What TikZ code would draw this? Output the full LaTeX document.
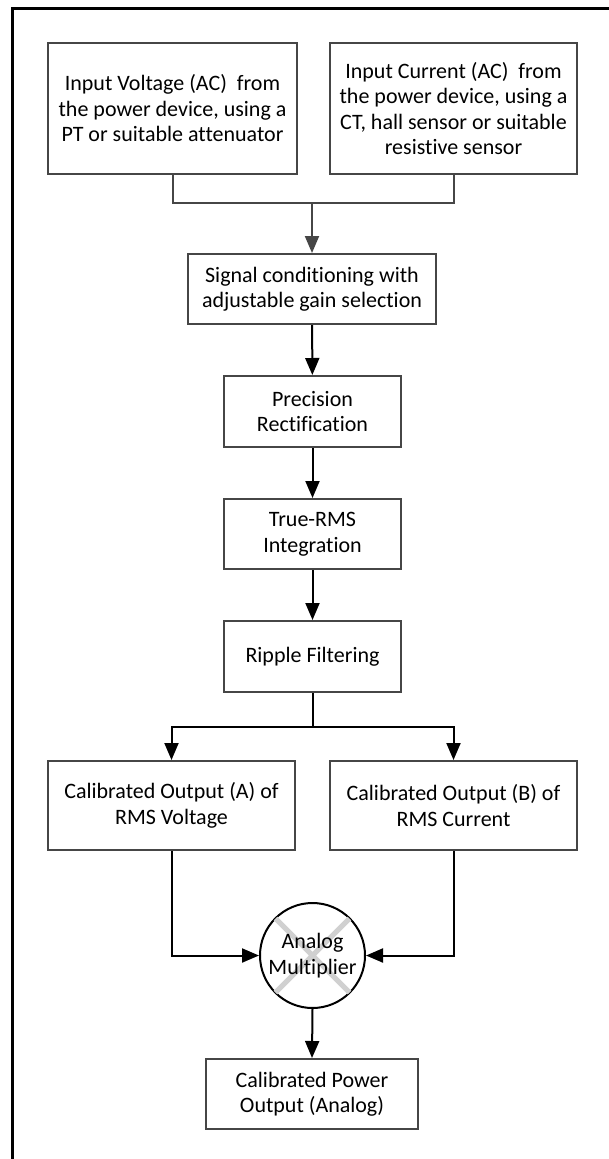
\documentclass[tikz,border=0pt]{standalone}
\usepackage{fontspec}
\setmainfont{Carlito}[Ligatures=CommonOff]
\usetikzlibrary{arrows.meta}
\definecolor{boxgray}{RGB}{70,70,70}
\definecolor{xgray}{RGB}{208,208,208}
\begin{document}
\begin{tikzpicture}[x=1pt,y=-1pt,
  blk/.style={draw=boxgray, line width=2pt, fill=white, inner sep=0pt, align=center,
    font=\fontsize{22}{25.5}\selectfont},
  arr/.style={line width=2pt, draw=black, -{Triangle[length=17pt,width=14pt]}},
  garr/.style={line width=2pt, draw=boxgray, -{Triangle[length=17pt,width=14pt]}},
  gline/.style={line width=2pt, draw=boxgray}]
\useasboundingbox (0,0) rectangle (609,1159);
\fill[white] (0,0) rectangle (609,1159);
% outer frame (only left and top visible)
\draw[line width=3pt, black] (12,1159) -- (12,8.5) -- (609,8.5);

\node[blk, minimum width=249pt, minimum height=131pt] (b1) at (172.5,108.5)
  {Input Voltage (AC)\ \ from\\the power device, using a\\PT or suitable attenuator};
\node[blk, minimum width=247pt, minimum height=131pt] (b2) at (453.5,108.5)
  {Input Current (AC)\ \ from\\the power device, using a\\CT, hall sensor or suitable\\resistive sensor};
\node[blk, minimum width=248pt, minimum height=70pt] (b3) at (312,289)
  {Signal conditioning with\\adjustable gain selection};
\node[blk, minimum width=177pt, minimum height=71pt] (b4) at (312.5,411.5)
  {Precision\\Rectification};
\node[blk, minimum width=177pt, minimum height=70pt] (b5) at (312.5,534)
  {True-RMS\\Integration};
\node[blk, minimum width=177pt, minimum height=71pt] (b6) at (312.5,656.5)
  {Ripple Filtering};
\node[blk, minimum width=247pt, minimum height=89pt] (b7) at (171.5,805.5)
  {Calibrated Output (A) of\\RMS Voltage};
\node[blk, minimum width=247pt, minimum height=89pt] (b8) at (453.5,805.5)
  {Calibrated Output (B) of\\RMS Current};
\node[draw=black, line width=2pt, circle, minimum size=105pt, inner sep=0pt] (mul) at (312.5,955.5) {};
\draw[xgray, line width=5pt] ([shift={(-37,-37)}]mul.center) -- ([shift={(37,37)}]mul.center)
  ([shift={(37,-37)}]mul.center) -- ([shift={(-37,37)}]mul.center);
\node[align=center, font=\fontsize{22}{25.5}\selectfont] (multxt) at (mul.center) {Analog\\Multiplier};
\node[blk, minimum width=212pt, minimum height=70pt] (b9) at (312,1094)
  {Calibrated Power\\Output (Analog)};

\coordinate (j1) at (312,203);
\coordinate (j2) at (312.5,727);

\draw[gline] (b1.south) |- (j1) -| (b2.south);
\draw[garr] (j1) -- (b3.north);
\draw[arr] (b3) -- (b4);
\draw[arr] (b4) -- (b5);
\draw[arr] (b5) -- (b6);
\draw[line width=2pt] (b6.south) -- (j2);
\draw[arr] (j2) -| (b7.north);
\draw[arr] (j2) -| (b8.north);
\draw[arr] (b7.south) |- (mul.west);
\draw[arr] (b8.south) |- (mul.east);
\draw[arr] (mul.south) -- (b9.north);
\end{tikzpicture}
\end{document}
